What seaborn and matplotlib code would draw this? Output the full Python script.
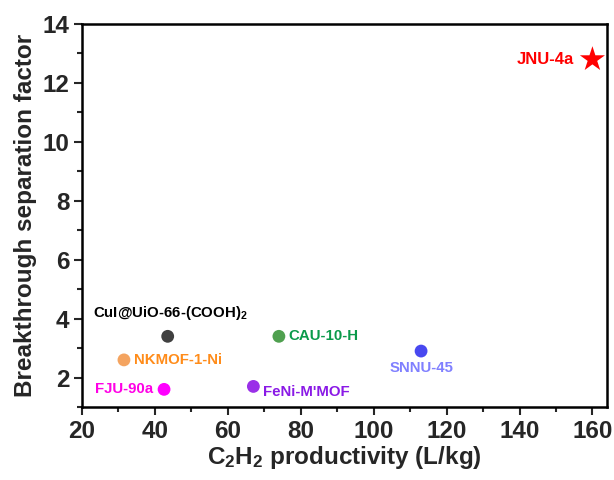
import matplotlib
matplotlib.use("Agg")
import matplotlib.pyplot as plt
import seaborn as sns
import pandas as pd

names = ["CuI@UiO-66-(COOH)$_2$", "CAU-10-H", "NKMOF-1-Ni", "FJU-90a", "FeNi-M'MOF", "SNNU-45"]
productivity = [43.5, 74.0, 31.5, 42.5, 67.0, 113.0]
separation = [3.4, 3.4, 2.6, 1.6, 1.7, 2.9]
marker_colors = ["#404040", "#4FA04F", "#F4A460", "#FF00FF", "#9A30E8", "#4848F0"]
text_colors = ["#000000", "#0A9A4A", "#FF8C1A", "#FF00E6", "#8A1AE6", "#8080FF"]

star_name = ["JNU-4a"]
star_x = [160.0]
star_y = [12.8]

sns.set_style("ticks")
plt.rcParams["font.family"] = ["Liberation Sans", "DejaVu Sans"]
plt.rcParams["font.weight"] = "bold"
plt.rcParams["mathtext.fontset"] = "custom"
plt.rcParams["mathtext.rm"] = "Liberation Sans:bold"
plt.rcParams["mathtext.it"] = "Liberation Sans:bold"
plt.rcParams["mathtext.bf"] = "Liberation Sans:bold"

fig = plt.figure(figsize=(6.14, 4.80), dpi=100)
ax = fig.add_axes([0.1336, 0.152, 0.855, 0.798])

df = pd.DataFrame({"name": names, "x": productivity, "y": separation})
sns.scatterplot(data=df, x="x", y="y", hue="name", palette=marker_colors,
                s=85, edgecolor="none", legend=False, ax=ax, zorder=3)
dfs = pd.DataFrame({"name": star_name, "x": star_x, "y": star_y})
sns.scatterplot(data=dfs, x="x", y="y", color="#FF0000", marker="*",
                s=360, edgecolor="none", legend=False, ax=ax, zorder=3)

# label offsets in points (style)
offsets = {
    "CuI@UiO-66-(COOH)$_2$": ((-54, 17), "left", "center"),
    "CAU-10-H": ((7, 0), "left", "center"),
    "NKMOF-1-Ni": ((7, 0), "left", "center"),
    "FJU-90a": ((-8, 0), "right", "center"),
    "FeNi-M'MOF": ((7, -4), "left", "center"),
    "SNNU-45": ((0, -12), "center", "center"),
}
for n, xv, yv, c in zip(names, productivity, separation, text_colors):
    (dx, dy), ha, va = offsets[n]
    ax.annotate(n, (xv, yv), xytext=(dx, dy), textcoords="offset points",
                ha=ha, va=va, color=c, fontsize=10.8, fontweight="bold")
for n, xv, yv in zip(star_name, star_x, star_y):
    ax.annotate(n, (xv, yv), xytext=(-13, 0), textcoords="offset points",
                ha="right", va="center", color="#FF0000", fontsize=12,
                fontweight="bold")

ax.set_xlim(20, 164)
ax.set_ylim(1, 14)
ax.set_xticks([20, 40, 60, 80, 100, 120, 140, 160])
ax.set_xticks([30, 50, 70, 90, 110, 130, 150], minor=True)
ax.set_yticks([2, 4, 6, 8, 10, 12, 14])
ax.set_yticks([1, 3, 5, 7, 9, 11, 13], minor=True)
ax.tick_params(axis="both", which="major", direction="out", length=6, width=1.5,
               labelsize=17.5, pad=3)
ax.tick_params(axis="both", which="minor", direction="out", length=3.5, width=1.5)
for lab in ax.get_xticklabels() + ax.get_yticklabels():
    lab.set_fontweight("bold")
for sp in ax.spines.values():
    sp.set_linewidth(1.8)
    sp.set_color("black")

ax.set_xlabel("C$_2$H$_2$ productivity (L/kg)", fontsize=17.5, fontweight="bold", labelpad=1)
ax.set_ylabel("Breakthrough separation factor", fontsize=17.5, fontweight="bold", labelpad=4)

fig.savefig("out.png", dpi=100)
